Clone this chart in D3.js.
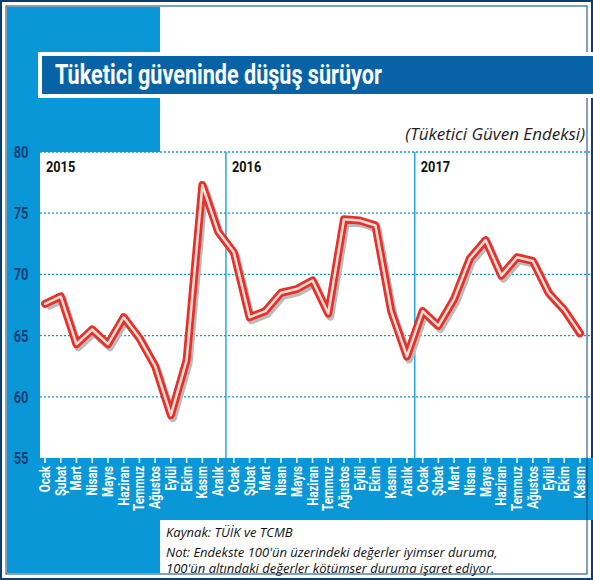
<!DOCTYPE html>
<html><head><meta charset="utf-8">
<script src="https://cdn.jsdelivr.net/npm/d3@7"></script>
<style>body{margin:0;background:#fff}svg{display:block}</style>
</head><body>
<svg id="chart" width="593" height="580"></svg>
<script>
const months = ["Ocak","Şubat","Mart","Nisan","Mayıs","Haziran","Temmuz","Ağustos","Eylül","Ekim","Kasım","Aralık"];
const years = ["2015", "2016", "2017"];
const values = [
  67.6, 68.2, 64.3, 65.5, 64.3, 66.5, 64.8, 62.5, 58.5, 63.0, 77.3, 73.5,
  71.8, 66.5, 67.0, 68.5, 68.8, 69.5, 66.8, 74.5, 74.4, 74.0, 67.0, 63.3,
  67.0, 65.8, 68.0, 71.3, 72.8, 69.9, 71.4, 71.1, 68.5, 67.1, 65.2
];
const yTicks = [55, 60, 65, 70, 75, 80];

const cond = "'Liberation Sans Narrow','Roboto',sans-serif";
const light = "#0a97d8", dark = "#0762a6", navy = "#0b3f74";
const svg = d3.select("#chart");

// frame & background blocks
svg.append("rect").attr("x",1).attr("y",1).attr("width",591).attr("height",578).attr("fill","#fff").attr("stroke",navy).attr("stroke-width",2);
svg.append("rect").attr("x",7).attr("y",7).attr("width",153).attr("height",145).attr("fill",light);
svg.append("rect").attr("x",7).attr("y",7).attr("width",33).attr("height",566).attr("fill",light);
svg.append("rect").attr("x",7).attr("y",458).attr("width",586).attr("height",62).attr("fill",light);
svg.append("rect").attr("x",7).attr("y",458).attr("width",153).attr("height",115).attr("fill",light);
svg.append("rect").attr("x",6).attr("y",6).attr("width",581).attr("height",568).attr("fill","none").attr("stroke",navy).attr("stroke-width",1);

// title bar
svg.append("rect").attr("x",38).attr("y",52).attr("width",560).attr("height",46).attr("fill","#fff");
svg.append("rect").attr("x",42).attr("y",56).attr("width",560).attr("height",38).attr("fill",dark);
svg.append("text").attr("transform","translate(55,84) scale(0.8,1)").attr("fill","#fff").attr("font-family",cond)
  .attr("font-weight","bold").attr("font-size",27).text("Tüketici güveninde düşüş sürüyor");
svg.append("text").attr("x",585).attr("y",140).attr("text-anchor","end").attr("fill","#222")
  .attr("font-family","'Open Sans',sans-serif").attr("font-style","italic").attr("font-size",17).text("(Tüketici Güven Endeksi)");

const x = d3.scaleLinear().domain([0, values.length - 1]).range([45, 580]);
const y = d3.scaleLinear().domain([55, 80]).range([458, 152]);

// grid
svg.selectAll(".grid").data(yTicks.slice(1)).enter().append("line")
  .attr("x1",40).attr("x2",590).attr("y1",d=>y(d)).attr("y2",d=>y(d))
  .attr("stroke",light).attr("stroke-width",1.3).attr("stroke-dasharray","2,2");
// year separators
svg.selectAll(".sep").data([11.5, 23.5]).enter().append("line")
  .attr("x1",d=>x(d)).attr("x2",d=>x(d)).attr("y1",y(80)).attr("y2",458)
  .attr("stroke",light).attr("stroke-width",1.3);
svg.selectAll(".yr").data(years).enter().append("text")
  .attr("transform",(d,i)=>`translate(${i===0?46:x(i*12-0.5)+6},172) scale(0.85,1)`).attr("fill","#111")
  .attr("font-family",cond).attr("font-weight","bold").attr("font-size",15).text(d=>d);

// y axis labels
svg.selectAll(".yl").data(yTicks).enter().append("text")
  .attr("transform",d=>`translate(21,${y(d)+6}) scale(0.8,1)`).attr("text-anchor","middle").attr("fill",navy)
  .attr("font-family",cond).attr("font-weight","bold").attr("font-size",16).text(d=>d);

// x axis ticks and labels
const idx = d3.range(values.length);
svg.selectAll(".tk").data(idx).enter().append("line")
  .attr("x1",d=>x(d)).attr("x2",d=>x(d)).attr("y1",458).attr("y2",463)
  .attr("stroke","#fff").attr("stroke-width",1.5);
svg.selectAll(".xl").data(idx).enter().append("text")
  .attr("transform",d=>`translate(${x(d)+5},466) rotate(-90) scale(0.82,1)`).attr("text-anchor","end")
  .attr("fill","#fff").attr("font-family",cond).attr("font-weight","bold").attr("font-size",14)
  .text(d=>months[d % 12]);

// line
const line = d3.line().x((d,i)=>x(i)).y(d=>y(d)).curve(d3.curveLinear);
svg.append("path").datum(values).attr("d",line).attr("transform","translate(2,3)")
  .attr("fill","none").attr("stroke","#bbb").attr("stroke-width",8).attr("stroke-linejoin","round");
svg.append("path").datum(values).attr("d",line)
  .attr("fill","none").attr("stroke","#e8302a").attr("stroke-width",8).attr("stroke-linejoin","round").attr("stroke-linecap","round");
svg.append("path").datum(values).attr("d",line)
  .attr("fill","none").attr("stroke","#fde0d8").attr("stroke-width",2.5).attr("stroke-linejoin","round").attr("stroke-linecap","round");

// notes
const note = svg.append("g").attr("font-family","'Open Sans',sans-serif").attr("font-style","italic").attr("fill","#111").attr("font-size",13);
note.append("text").attr("x",166).attr("y",537).text("Kaynak: TÜİK ve TCMB");
note.append("text").attr("x",166).attr("y",557).text("Not: Endekste 100'ün üzerindeki değerler iyimser duruma,");
note.append("text").attr("x",166).attr("y",573).text("100'ün altındaki değerler kötümser duruma işaret ediyor.");
</script>
</body></html>
